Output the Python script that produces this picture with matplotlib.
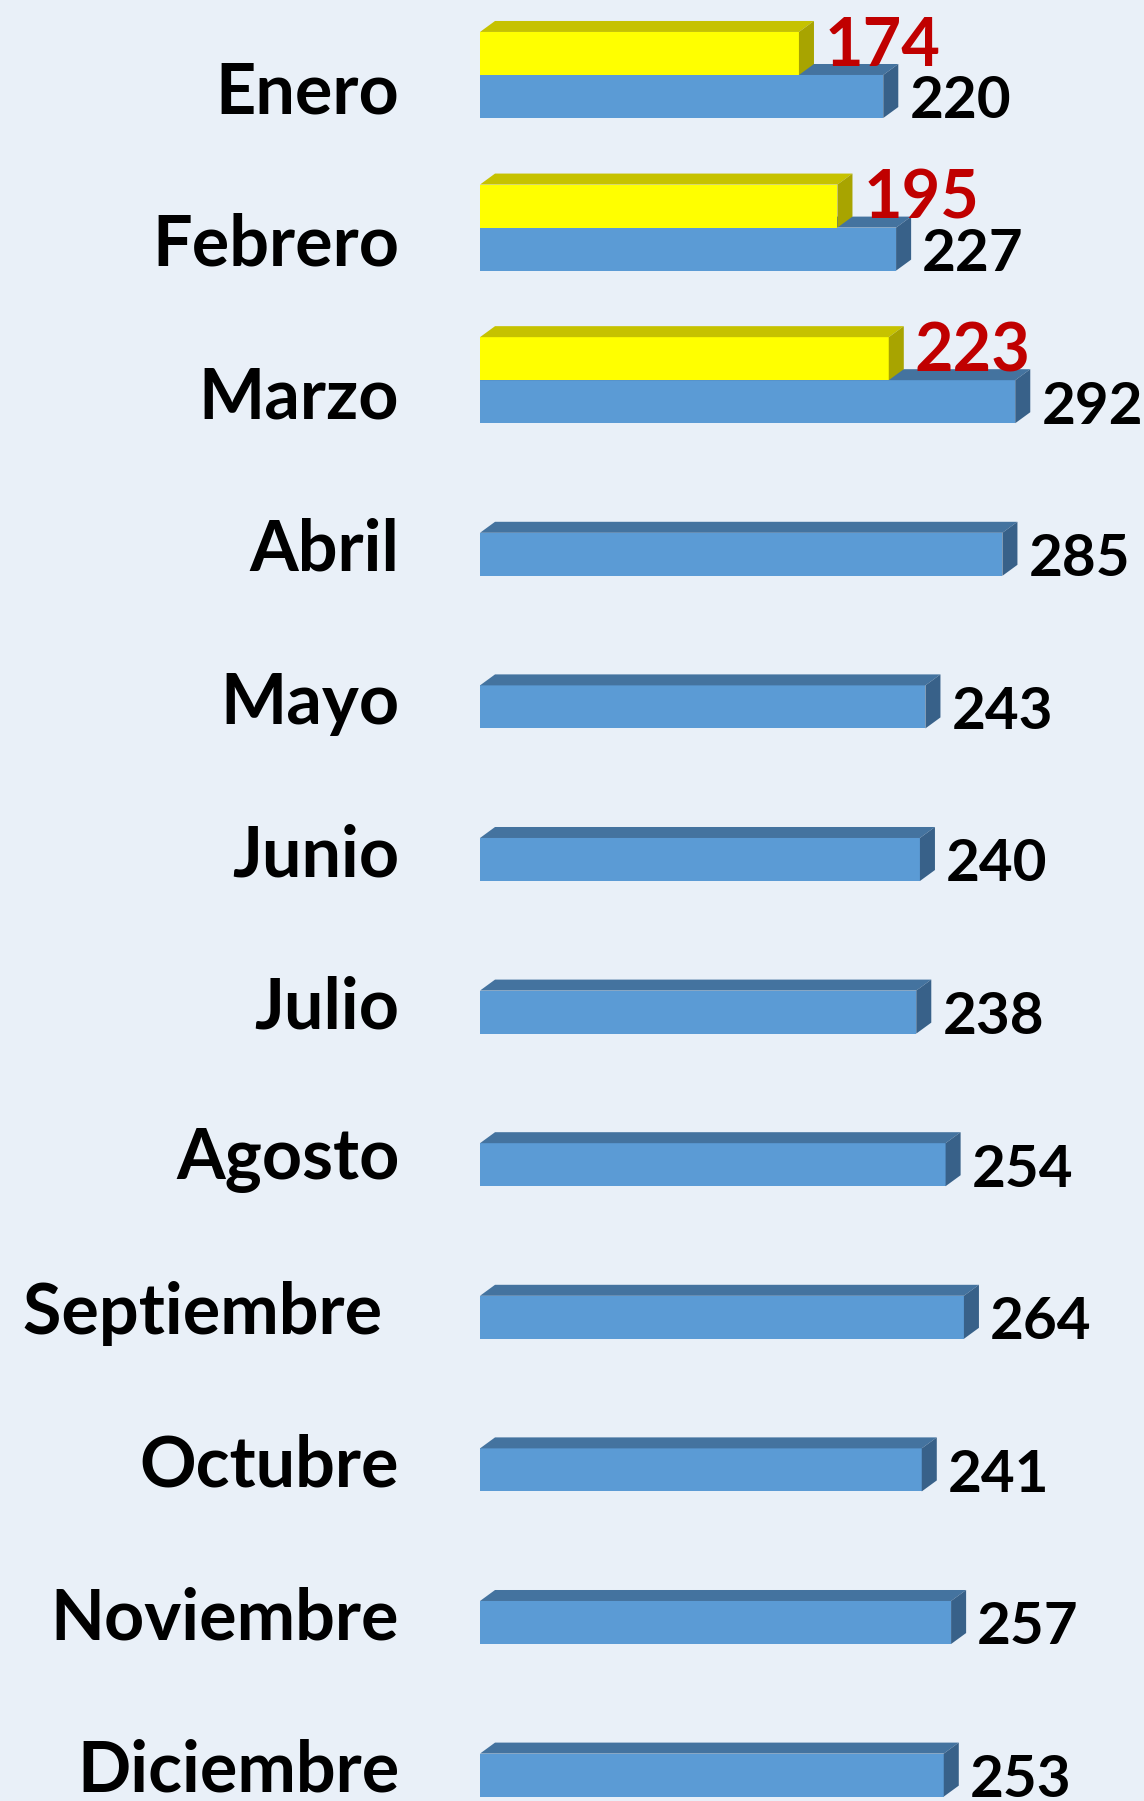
import matplotlib
matplotlib.use("Agg")
import matplotlib.pyplot as plt
from matplotlib.patches import Polygon

months = ["Enero", "Febrero", "Marzo", "Abril", "Mayo", "Junio", "Julio",
          "Agosto", "Septiembre ", "Octubre", "Noviembre", "Diciembre"]
prev_year = [220, 227, 292, 285, 243, 240, 238, 254, 264, 241, 257, 253]
curr_year = [174, 195, 223]

BG = "#E9F0F8"
BLUE = ("#5B9BD5", "#44739F", "#386189")     # front, top, side
YELLOW = ("#FFFF00", "#C6C200", "#A8A400")

H = 0.282          # bar thickness (rows)
DX, DY = 8.2, 0.072  # 3D depth in data units

plt.rcParams["font.family"] = ["Lato", "DejaVu Sans"]

fig = plt.figure(figsize=(11.44, 18.01), dpi=100, facecolor=BG)
ax = fig.add_axes([480 / 1144, 0, 1 - 480 / 1144, 1])
ax.set_facecolor(BG)
ax.set_xlim(0, 664 / 1.833)
ax.set_ylim((1801 - 96.5) / 152.6, -96.5 / 152.6)


def bar3d(y, v, colors):
    front, top, side = colors
    y0, y1 = y - H / 2, y + H / 2  # y0 = upper edge (inverted axis)
    ax.add_patch(Polygon([(0, y1), (v, y1), (v, y0), (0, y0)], closed=True,
                         facecolor=front, edgecolor="none", zorder=2))
    ax.add_patch(Polygon([(0, y0), (v, y0), (v + DX, y0 - DY), (DX, y0 - DY)],
                         closed=True, facecolor=top, edgecolor="none", zorder=2))
    ax.add_patch(Polygon([(v, y1), (v + DX, y1 - DY), (v + DX, y0 - DY), (v, y0)],
                         closed=True, facecolor=side, edgecolor="none", zorder=2))


for i, v in enumerate(prev_year):
    bar3d(i, v, BLUE)
    ax.text(v + DX + 6, i + 0.035, str(v), ha="left", va="center",
            fontsize=42, fontweight="bold", color="black", zorder=4)

for i, v in enumerate(curr_year):
    yc = i - H
    bar3d(yc, v, YELLOW)
    ax.text(v + DX + 6, yc - 0.04, str(v), ha="left", va="center",
            fontsize=48, fontweight="bold", color="#C00000", zorder=5)

# month labels, right-aligned left of the bars
for i, m in enumerate(months):
    ax.text(-44, i - 0.025, m, ha="right", va="center", fontsize=50.5,
            fontweight="bold", color="black", clip_on=False)

ax.set_xticks([])
ax.set_yticks([])
for s in ax.spines.values():
    s.set_visible(False)

fig.savefig("out.png", dpi=100, facecolor=BG)
